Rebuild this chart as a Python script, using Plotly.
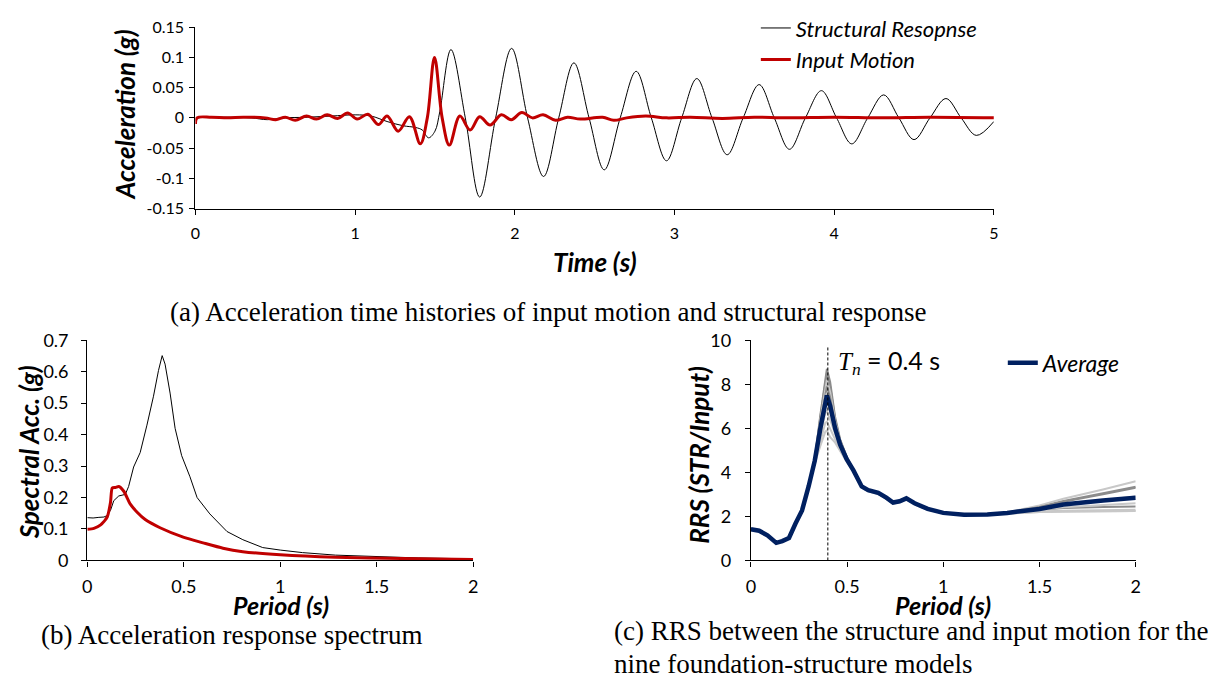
import plotly.graph_objects as go

# ---------------- (a) time histories ----------------
str_t = [0.00, 0.02, 0.20, 0.35, 0.45, 0.55, 0.70, 0.85, 1.00, 1.10, 1.20, 1.30, 1.38, 1.42, 1.46, 1.50, 1.53,
         1.60, 1.69, 1.78, 1.88, 1.98, 2.08, 2.18, 2.275, 2.37, 2.465, 2.56, 2.66, 2.76, 2.855, 2.95, 3.045,
         3.14, 3.235, 3.33, 3.43, 3.53, 3.625, 3.72, 3.82, 3.92, 4.015, 4.11, 4.21, 4.31, 4.405, 4.50, 4.60,
         4.70, 4.795, 4.89, 5.00]
str_a = [-0.004, 0.000, 0.001, 0.000, -0.003, 0.000, 0.001, 0.003, 0.005, 0.003, -0.006, -0.013, -0.016, -0.020,
         -0.033, -0.022, 0.010,
         0.113, 0.000, -0.131, 0.000, 0.115, 0.000, -0.097, 0.000, 0.091, 0.000, -0.086, 0.000, 0.077, 0.000,
         -0.071, 0.000, 0.065, 0.000, -0.061, 0.000, 0.055, 0.000, -0.052, 0.000, 0.045, 0.000, -0.043, 0.000,
         0.038, 0.000, -0.036, 0.000, 0.032, 0.000, -0.029, -0.006]

inp_t = [0.000, 0.010, 0.10, 0.20, 0.30, 0.437, 0.503, 0.563, 0.625, 0.696, 0.758, 0.825, 0.890, 0.953, 1.013,
         1.080, 1.146, 1.200, 1.270, 1.340, 1.408, 1.452, 1.497, 1.545, 1.590, 1.656, 1.720, 1.780, 1.845,
         1.916, 1.978, 2.044, 2.110, 2.177, 2.255, 2.330, 2.410, 2.550, 2.620, 2.700, 2.820, 2.950, 3.100,
         3.300, 3.500, 3.700, 4.000, 4.300, 4.600, 5.000]
inp_a = [-0.010, 0.000, 0.001, 0.000, 0.001, 0.000, -0.003, 0.001, -0.004, 0.003, -0.002, 0.005, -0.001, 0.008,
         -0.002, 0.006, -0.011, 0.003, -0.022, 0.002, -0.043, 0.000, 0.100, 0.000, -0.045, 0.003, -0.020, 0.002,
         -0.012, 0.005, -0.003, 0.009, 0.000, 0.005, -0.004, 0.001, -0.002, 0.001, -0.004, 0.000, 0.003, 0.000,
         0.001, -0.001, 0.001, 0.000, 0.001, 0.000, 0.001, 0.000]

# ---------------- (b) response spectra ----------------
sa_str_T = [0.000, 0.030, 0.060, 0.086, 0.100, 0.120, 0.137, 0.163, 0.197, 0.214, 0.240, 0.274, 0.309, 0.343,
            0.369, 0.388, 0.403, 0.429, 0.455, 0.489, 0.532, 0.569, 0.635, 0.724, 0.806, 0.909, 1.000, 1.115,
            1.286, 1.500, 1.715, 2.000]
sa_str = [0.136, 0.135, 0.137, 0.138, 0.142, 0.159, 0.190, 0.205, 0.210, 0.235, 0.297, 0.343, 0.430, 0.522,
          0.604, 0.651, 0.624, 0.532, 0.420, 0.333, 0.266, 0.200, 0.148, 0.092, 0.066, 0.041, 0.033, 0.025,
          0.017, 0.012, 0.008, 0.005]
sa_inp_T = [0.000, 0.034, 0.069, 0.103, 0.120, 0.129, 0.146, 0.163, 0.189, 0.223, 0.257, 0.300, 0.377, 0.497,
            0.600, 0.703, 0.806, 1.000, 1.286, 1.630, 2.000]
sa_inp = [0.099, 0.102, 0.113, 0.138, 0.184, 0.230, 0.232, 0.235, 0.220, 0.179, 0.154, 0.130, 0.104, 0.074,
          0.056, 0.039, 0.028, 0.018, 0.010, 0.006, 0.003]

# ---------------- (c) RRS ----------------
rrs_T = [0, 0.043, 0.086, 0.132, 0.163, 0.198, 0.232, 0.266, 0.3, 0.332, 0.361, 0.387, 0.395, 0.412, 0.438,
         0.464, 0.498, 0.533, 0.576, 0.61, 0.662, 0.704, 0.739, 0.773, 0.808, 0.851, 0.919, 1.0, 1.108, 1.229,
         1.332, 1.5, 1.624, 1.83, 2.0]
rrs_avg = [1.42, 1.35, 1.14, 0.80, 0.88, 1.02, 1.68, 2.27, 3.36, 4.53, 5.99, 7.31, 7.49, 7.02, 5.99, 5.26, 4.60,
           4.09, 3.36, 3.19, 3.07, 2.85, 2.63, 2.69, 2.82, 2.60, 2.34, 2.16, 2.08, 2.09, 2.16, 2.34, 2.54, 2.72, 2.85]
rrs_m1 = [1.42, 1.35, 1.14, 0.80, 0.88, 1.02, 1.68, 2.27, 3.36, 4.60, 6.60, 8.40, 8.70, 8.10, 6.50, 5.50, 4.70,
          4.12, 3.38, 3.21, 3.09, 2.87, 2.65, 2.71, 2.84, 2.62, 2.35, 2.17, 2.09, 2.10, 2.17, 2.45, 2.70, 3.05, 3.35]
rrs_m2 = [1.42, 1.35, 1.14, 0.80, 0.88, 1.02, 1.68, 2.27, 3.36, 4.58, 6.50, 8.20, 8.50, 7.90, 6.40, 5.45, 4.70,
          4.11, 3.37, 3.20, 3.08, 2.86, 2.64, 2.70, 2.83, 2.61, 2.35, 2.16, 2.08, 2.09, 2.15, 2.30, 2.38, 2.43, 2.45]
rrs_m3 = [1.42, 1.35, 1.14, 0.80, 0.88, 1.02, 1.68, 2.27, 3.36, 4.57, 6.35, 7.90, 8.20, 7.65, 6.30, 5.40, 4.65,
          4.10, 3.37, 3.20, 3.08, 2.86, 2.64, 2.70, 2.83, 2.61, 2.35, 2.17, 2.09, 2.10, 2.18, 2.50, 2.80, 3.22, 3.60]
rrs_m4 = [1.42, 1.35, 1.14, 0.80, 0.88, 1.02, 1.68, 2.27, 3.36, 4.55, 6.20, 7.65, 7.90, 7.40, 6.15, 5.35, 4.62,
          4.10, 3.36, 3.19, 3.07, 2.85, 2.63, 2.69, 2.82, 2.60, 2.34, 2.16, 2.08, 2.09, 2.17, 2.43, 2.66, 3.00, 3.30]
rrs_m5 = [1.42, 1.35, 1.14, 0.80, 0.88, 1.02, 1.68, 2.27, 3.36, 4.53, 6.05, 7.40, 7.60, 7.10, 6.00, 5.28, 4.60,
          4.09, 3.35, 3.18, 3.06, 2.84, 2.62, 2.68, 2.81, 2.59, 2.33, 2.15, 2.07, 2.08, 2.14, 2.20, 2.22, 2.24, 2.25]
rrs_m6 = [1.42, 1.35, 1.14, 0.80, 0.88, 1.02, 1.68, 2.27, 3.36, 4.50, 5.85, 7.05, 7.20, 6.75, 5.85, 5.20, 4.57,
          4.07, 3.34, 3.17, 3.05, 2.83, 2.61, 2.67, 2.80, 2.58, 2.32, 2.15, 2.07, 2.08, 2.14, 2.22, 2.26, 2.29, 2.30]
rrs_m7 = [1.42, 1.35, 1.14, 0.80, 0.88, 1.02, 1.68, 2.27, 3.36, 4.47, 5.65, 6.70, 6.80, 6.40, 5.70, 5.10, 4.55,
          4.06, 3.33, 3.16, 3.04, 2.82, 2.60, 2.66, 2.79, 2.57, 2.32, 2.15, 2.07, 2.08, 2.16, 2.35, 2.55, 2.75, 2.90]
rrs_m8 = [1.42, 1.35, 1.14, 0.80, 0.88, 1.02, 1.68, 2.27, 3.36, 4.43, 5.40, 6.25, 6.30, 5.95, 5.50, 5.00, 4.50,
          4.04, 3.32, 3.15, 3.03, 2.81, 2.59, 2.65, 2.78, 2.56, 2.31, 2.14, 2.06, 2.07, 2.15, 2.30, 2.42, 2.53, 2.60]
rrs_m9 = [1.42, 1.35, 1.14, 0.80, 0.88, 1.02, 1.68, 2.27, 3.36, 4.40, 5.20, 5.85, 5.90, 5.60, 5.35, 4.95, 4.48,
          4.03, 3.31, 3.14, 3.02, 2.80, 2.58, 2.64, 2.77, 2.55, 2.30, 2.14, 2.06, 2.07, 2.13, 2.20, 2.23, 2.25, 2.25]
rrs_models = [rrs_m1, rrs_m2, rrs_m3, rrs_m4, rrs_m5, rrs_m6, rrs_m7, rrs_m8, rrs_m9]
model_colors = ["#8c8c8c", "#8c8c8c", "#c8c8c8", "#8c8c8c", "#c8c8c8", "#c8c8c8", "#c8c8c8", "#c8c8c8", "#c8c8c8"]
Tn = 0.4

top_x_ticks = [0, 1, 2, 3, 4, 5]
top_y_ticks = [0.15, 0.1, 0.05, 0, -0.05, -0.1, -0.15]
top_y_text = ["0.15", "0.1", "0.05", "0", "-0.05", "-0.1", "-0.15"]
per_ticks = [0, 0.5, 1, 1.5, 2]
sa_ticks = [0, 0.1, 0.2, 0.3, 0.4, 0.5, 0.6, 0.7]
rrs_ticks = [0, 2, 4, 6, 8, 10]

SANS = "Lato, 'Open Sans', sans-serif"
SERIF = "'Liberation Serif', 'Times New Roman', serif"
W, H = 1227, 691

fig = go.Figure()
fig.add_trace(go.Scatter(x=str_t, y=str_a, mode="lines", line=dict(color="black", width=1, shape="spline", smoothing=1),
                         name="<i>Structural Resopnse</i>", xaxis="x", yaxis="y", legend="legend"))
fig.add_trace(go.Scatter(x=inp_t, y=inp_a, mode="lines", line=dict(color="#C00000", width=3, shape="spline", smoothing=1),
                         name="<i>Input Motion</i>", xaxis="x", yaxis="y", legend="legend"))

fig.add_trace(go.Scatter(x=sa_str_T, y=sa_str, mode="lines", line=dict(color="black", width=1),
                         showlegend=False, xaxis="x2", yaxis="y2"))
fig.add_trace(go.Scatter(x=sa_inp_T, y=sa_inp, mode="lines", line=dict(color="#C00000", width=3, shape="spline", smoothing=0.6),
                         showlegend=False, xaxis="x2", yaxis="y2"))

for m, c in zip(rrs_models, model_colors):
    fig.add_trace(go.Scatter(x=rrs_T, y=m, mode="lines", line=dict(color=c, width=2),
                             showlegend=False, xaxis="x3", yaxis="y3"))
fig.add_trace(go.Scatter(x=rrs_T, y=rrs_avg, mode="lines", line=dict(color="#002060", width=4.5),
                         name="<i>Average</i>", xaxis="x3", yaxis="y3", legend="legend2"))

def px_x(p):
    return p / W

def px_y(p):
    return 1 - p / H

axis_common = dict(showline=True, linecolor="black", linewidth=1.3, ticks="outside", ticklen=5,
                   tickcolor="black", tickwidth=1.3, showgrid=False, zeroline=False, mirror=False)

fig.update_layout(
    width=W, height=H, margin=dict(l=0, r=0, t=0, b=0),
    paper_bgcolor="white", plot_bgcolor="white",
    font=dict(family=SANS, color="black"),
    xaxis=dict(domain=[px_x(192), px_x(997)], range=[0, 5], anchor="y", tickvals=top_x_ticks,
               tickfont=dict(size=16), ticklabelstandoff=5, **axis_common),
    yaxis=dict(domain=[px_y(203), px_y(15.7)], range=[-0.15, 0.15], anchor="x", tickvals=top_y_ticks,
               ticktext=top_y_text, tickfont=dict(size=16), ticklabelstandoff=2, **axis_common),
    xaxis2=dict(domain=[px_x(83), px_x(472)], range=[0, 2], anchor="y2", tickvals=per_ticks,
                tickfont=dict(size=18), ticklabelstandoff=5, **axis_common),
    yaxis2=dict(domain=[px_y(566.5), px_y(339)], range=[0, 0.7], anchor="x2", tickvals=sa_ticks,
                tickfont=dict(size=18), ticklabelstandoff=9, **axis_common),
    xaxis3=dict(domain=[px_x(752), px_x(1140)], range=[0, 2], anchor="y3", tickvals=per_ticks,
                tickfont=dict(size=18), ticklabelstandoff=5, **axis_common),
    yaxis3=dict(domain=[px_y(566.5), px_y(339)], range=[0, 10], anchor="x3", tickvals=rrs_ticks,
                tickfont=dict(size=18), ticklabelstandoff=10, **axis_common),
    legend=dict(x=px_x(757), y=px_y(-5), xanchor="left", yanchor="top", bgcolor="rgba(0,0,0,0)",
                font=dict(size=22), itemwidth=30, tracegroupgap=0),
    legend2=dict(x=px_x(1006), y=px_y(340), xanchor="left", yanchor="top", bgcolor="rgba(0,0,0,0)",
                 font=dict(size=23), itemwidth=30),
)

fig.add_shape(type="line", x0=Tn, x1=Tn, y0=0, y1=9.75, xref="x3", yref="y3",
              line=dict(color="black", width=1, dash="3px,2px"))

ann = [
    dict(text="<b><i>Time (s)</i></b>", x=px_x(595), y=px_y(258), font=dict(size=26)),
    dict(text="<b><i>Acceleration (g)</i></b>", x=px_x(121), y=px_y(107), textangle=-90, font=dict(size=26)),
    dict(text="<b><i>Spectral Acc. (g)</i></b>", x=px_x(24), y=px_y(455), textangle=-90, font=dict(size=26)),
    dict(text="<b><i>Period (s)</i></b>", x=px_x(278), y=px_y(612), font=dict(size=25)),
    dict(text="<b><i>RRS (STR/Input)</i></b>", x=px_x(700), y=px_y(457), textangle=-90, font=dict(size=26)),
    dict(text="<b><i>Period (s)</i></b>", x=px_x(946), y=px_y(612), font=dict(size=25)),
    dict(text="(a) Acceleration time histories of input motion and structural response", x=px_x(548), y=px_y(310),
         font=dict(size=27, family=SERIF)),
    dict(text="(b) Acceleration response spectrum", x=px_x(229), y=px_y(644), font=dict(size=27, family=SERIF)),
    dict(text="(c) RRS between the structure and input motion for the", x=px_x(612), y=px_y(639),
         xanchor="left", font=dict(size=27, family=SERIF)),
    dict(text="nine foundation-structure models", x=px_x(612), y=px_y(673),
         xanchor="left", font=dict(size=27, family=SERIF)),
]
for a in ann:
    a.setdefault("xanchor", "center")
    fig.add_annotation(xref="paper", yref="paper", yanchor="middle", showarrow=False, **a)

fig.add_annotation(xref="x3", yref="y3", x=0.443, y=9.0, xanchor="left", yanchor="middle", showarrow=False,
                   text="<span style='font-family:Liberation Serif'><i>T</i><sub><i>n</i></sub></span> = 0.4 s",
                   font=dict(size=25))

fig.write_html("out.html")
